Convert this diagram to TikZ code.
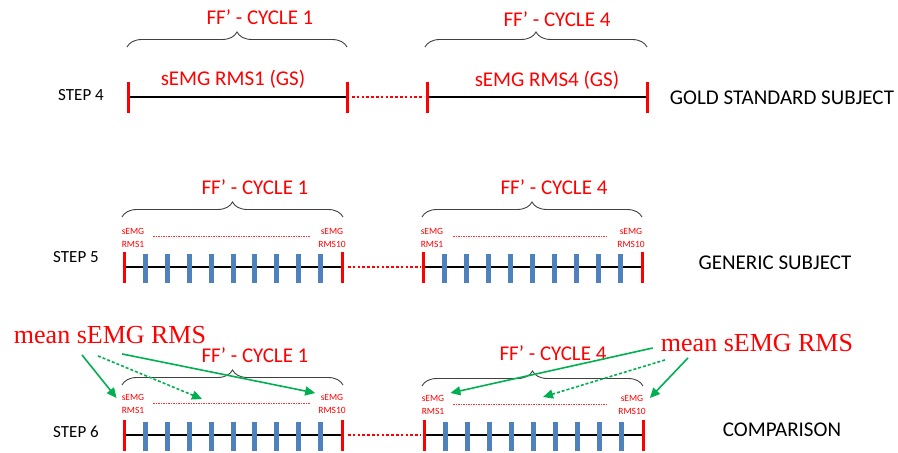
\documentclass[tikz,border=0pt]{standalone}
\usepackage{fontspec}
\setmainfont{Carlito}
\newfontfamily\meanfont{Liberation Serif}
\usetikzlibrary{calc,decorations.pathreplacing,arrows.meta}
\definecolor{CycleClr}{RGB}{255,0,0}
\definecolor{BarClr}{RGB}{79,129,189}
\definecolor{ArrowClr}{RGB}{0,176,80}
\definecolor{BraceClr}{RGB}{64,64,64}

\tikzset{
  axisline/.style={line width=2pt,black},
  redtick/.style={line width=3pt,CycleClr},
  bluebar/.style={line width=5pt,BarClr},
  gapdots/.style={line width=2pt,CycleClr,dash pattern=on 2.5pt off 2.3pt},
  smalldots/.style={line width=1pt,CycleClr!80,dash pattern=on 1.5pt off 1pt},
  cyclebrace/.style={decorate,decoration={brace,amplitude=15pt},line width=0.9pt,BraceClr},
  cycletitle/.style={text=CycleClr,font=\fontsize{21}{24}\selectfont,inner sep=0pt},
  steplabel/.style={font=\fontsize{17}{20}\selectfont,inner sep=0pt},
  sidelabel/.style={font=\fontsize{21}{24}\selectfont,inner sep=0pt},
  rmslabel/.style={text=CycleClr,font=\fontsize{9.5}{12.5}\selectfont,align=center,inner sep=0pt},
  meanlabel/.style={text=CycleClr,font=\meanfont\fontsize{26}{30}\selectfont,inner sep=0pt},
  greenarrow/.style={-{Triangle[length=10pt,width=9pt]},line width=1.6pt,ArrowClr},
  greendash/.style={greenarrow,dash pattern=on 3pt off 2pt},
}

\begin{document}
\begin{tikzpicture}[x=1pt,y=-1pt]
\useasboundingbox (0,0) rectangle (898,453);

% STEP 4 -- gold standard
\coordinate (a4) at (128,97);
\coordinate (b4) at (347,97);
\coordinate (c4) at (427,97);
\coordinate (d4) at (647,97);

\node[steplabel] (step4) at (81,95) {STEP 4};
\node[sidelabel] (gold) at (782,98) {GOLD STANDARD SUBJECT};

\draw[axisline] (a4) -- (b4);
\draw[axisline] (c4) -- (d4);
\draw[gapdots] ($(b4)+(5,0)$) -- ($(c4)+(-3,0)$);
\foreach \p in {a4,b4,c4,d4}
  \draw[redtick] ($(\p)+(0,-15)$) -- ($(\p)+(0,16)$);

\draw[cyclebrace] ($(a4)+(-1,-50)$) -- ($(b4)+(0,-50)$);
\draw[cyclebrace] ($(c4)+(-2,-50)$) -- ($(d4)+(0,-50)$);
\node[cycletitle] (title4a) at (260,17) {FF’ - CYCLE 1};
\node[cycletitle] (title4b) at (557,19) {FF’ - CYCLE 4};

\node[cycletitle] (gs1) at (233,79) {sEMG RMS1 (GS)};
\node[cycletitle] (gs4) at (547,80) {sEMG RMS4 (GS)};

% STEP 5 -- generic subject
\coordinate (a5) at (124,267);
\coordinate (b5) at (342,267);
\coordinate (c5) at (423,267);
\coordinate (d5) at (642,267);

\node[steplabel] (step5) at (76,257) {STEP 5};
\node[sidelabel] (generic) at (775,263) {GENERIC SUBJECT};

\draw[axisline] (a5) -- (b5);
\draw[axisline] (c5) -- (d5);
\draw[gapdots] ($(b5)+(6,0)$) -- ($(c5)+(-2,0)$);
\foreach \k in {1,...,9} {
  \draw[bluebar] ($(a5)!\k/10!(b5)+(0,-13)$) -- ($(a5)!\k/10!(b5)+(0,16)$);
  \draw[bluebar] ($(c5)!\k/10!(d5)+(0,-13)$) -- ($(c5)!\k/10!(d5)+(0,16)$);
}
\foreach \p in {a5,b5,c5,d5}
  \draw[redtick] ($(\p)+(0,-15)$) -- ($(\p)+(0,16)$);

\draw[cyclebrace] ($(a5)+(-2,-50)$) -- ($(b5)+(1,-50)$);
\draw[cyclebrace] ($(c5)+(-1,-50)$) -- ($(d5)+(0,-50)$);
\node[cycletitle] (title5a) at (255,187) {FF’ - CYCLE 1};
\node[cycletitle] (title5b) at (554,187) {FF’ - CYCLE 4};

\node[rmslabel] (lab5a) at ($(a5)+(9,-29)$) {sEMG\\RMS1};
\node[rmslabel] (lab5b) at ($(b5)+(-10,-29)$) {sEMG\\RMS10};
\node[rmslabel] (lab5c) at ($(c5)+(9,-29)$) {sEMG\\RMS1};
\node[rmslabel] (lab5d) at ($(d5)+(-11,-29)$) {sEMG\\RMS10};
\draw[smalldots] ($(a5)+(29,-31)$) -- ($(b5)+(-32,-31)$);
\draw[smalldots] ($(c5)+(30,-31)$) -- ($(d5)+(-34,-31)$);

% STEP 6 -- comparison
\coordinate (a6) at (124,435);
\coordinate (b6) at (342,435);
\coordinate (c6) at (424,435);
\coordinate (d6) at (643,435);

\node[steplabel] (step6) at (76,432) {STEP 6};
\node[sidelabel] (compare) at (782,430) {COMPARISON};

\draw[axisline] (a6) -- (b6);
\draw[axisline] (c6) -- (d6);
\draw[gapdots] ($(b6)+(6,0)$) -- ($(c6)+(-3,0)$);
\foreach \k in {1,...,9} {
  \draw[bluebar] ($(a6)!\k/10!(b6)+(0,-13)$) -- ($(a6)!\k/10!(b6)+(0,16)$);
  \draw[bluebar] ($(c6)!\k/10!(d6)+(0,-13)$) -- ($(c6)!\k/10!(d6)+(0,16)$);
}
\foreach \p in {a6,b6,c6,d6}
  \draw[redtick] ($(\p)+(0,-15)$) -- ($(\p)+(0,16)$);

\draw[cyclebrace] ($(a6)+(-2,-50)$) -- ($(b6)+(1,-50)$);
\draw[cyclebrace] ($(c6)+(-2,-49)$) -- ($(d6)+(0,-49)$);
\node[cycletitle] (title6a) at (255,355) {FF’ - CYCLE 1};
\node[cycletitle] (title6b) at (553,353) {FF’ - CYCLE 4};

\node[rmslabel] (lab6a) at ($(a6)+(9,-31)$) {sEMG\\RMS1};
\node[rmslabel] (lab6b) at ($(b6)+(-10,-31)$) {sEMG\\RMS10};
\node[rmslabel] (lab6c) at ($(c6)+(9,-30)$) {sEMG\\RMS1};
\node[rmslabel] (lab6d) at ($(d6)+(-11,-30)$) {sEMG\\RMS10};
\draw[smalldots] ($(a6)+(29,-32)$) -- ($(b6)+(-32,-32)$);
\draw[smalldots] ($(c6)+(29,-31)$) -- ($(d6)+(-35,-31)$);

% mean sEMG RMS arrows
\node[meanlabel] (meanL) at (110,335) {mean sEMG RMS};
\node[meanlabel] (meanR) at (757,343) {mean sEMG RMS};
\coordinate (mid6a) at (202,399);
\coordinate (mid6c) at (543,397);

\draw[greenarrow] ($(meanL.south)+(-28,11)$) -- ($(lab6a.west)+(-5,-6)$);
\draw[greendash]  ($(meanL.south)+(-12,12)$) -- (mid6a);
\draw[greenarrow] ($(meanL.south)+(12,10)$) -- ($(lab6b.west)+(-3,-11)$);
\draw[greenarrow] ($(meanR.west)+(-8,5)$) -- ($(lab6c.east)+(6,-12)$);
\draw[greendash]  ($(meanR.south)+(-92,8)$) -- (mid6c);
\draw[greenarrow] ($(meanR.south)+(-69,6)$) -- ($(lab6d.east)+(4,-7)$);

\end{tikzpicture}
\end{document}
